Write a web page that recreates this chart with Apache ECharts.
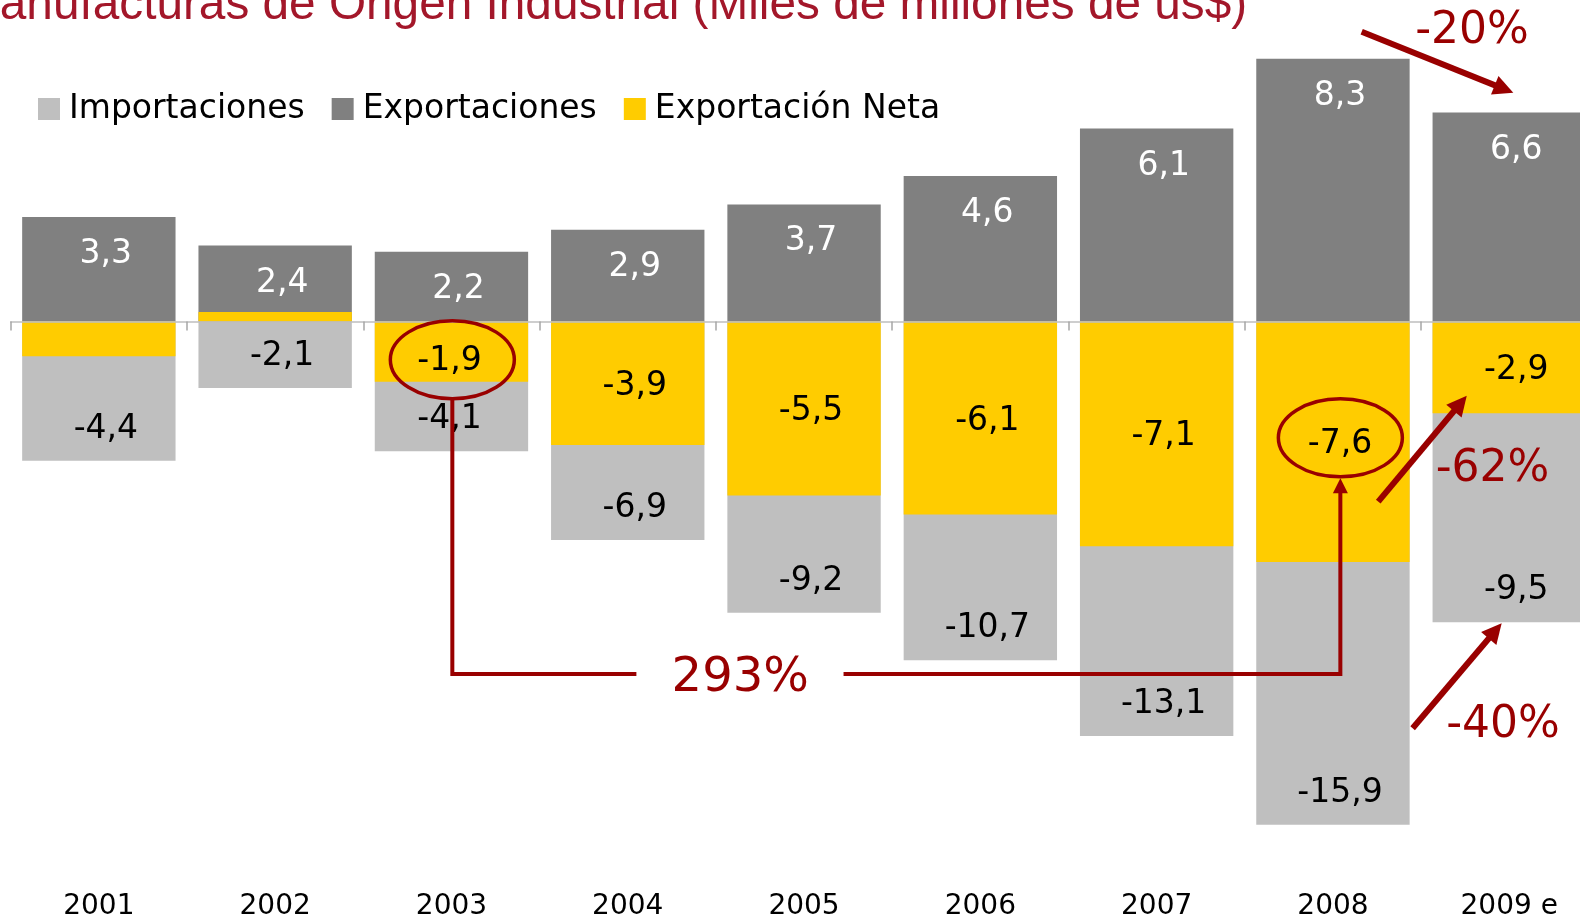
<!DOCTYPE html>
<html>
<head>
<meta charset="utf-8">
<title>Manufacturas de Origen Industrial</title>
<script src="https://cdn.jsdelivr.net/npm/echarts@6/dist/echarts.min.js"></script>
<style>
  html, body { margin: 0; padding: 0; background: #fff; }
  #main { width: 1580px; height: 920px; }
</style>
</head>
<body>
<div id="main"></div>
<script>
// datos (miles de millones de us$)
var years = ['2001', '2002', '2003', '2004', '2005', '2006', '2007', '2008', '2009 e'];
var exportaciones = [3.3, 2.4, 2.2, 2.9, 3.7, 4.6, 6.1, 8.3, 6.6];
var importaciones = [-4.4, -2.1, -4.1, -6.9, -9.2, -10.7, -13.1, -15.9, -9.5];
var exportacionNeta = [-1.1, 0.3, -1.9, -3.9, -5.5, -6.1, -7.1, -7.6, -2.9];

var rojo = '#990000';
var fuente = '"DejaVu Sans", Verdana, sans-serif';

var myChart = echarts.init(document.getElementById('main'));

function coma(v) {
    return v.toFixed(1).replace('.', ',');
}

// etiquetas de 2003 corridas a mano en el original
function conAjustes(values, ajustes) {
    return values.map(function (v, i) {
        var item = { value: v };
        if (ajustes[i]) item.label = { offset: ajustes[i] };
        return item;
    });
}

var etiqueta = {
    show: true,
    fontFamily: fuente,
    fontSize: 33,
    offset: [7, 0]
};

var option = {
    animation: false,
    title: {
        text: 'Manufacturas de Origen Industrial (Miles de millones de us$)',
        left: -40,
        top: -18,
        padding: 0,
        textStyle: {
            fontFamily: '"Liberation Sans", Arial, sans-serif',
            fontWeight: 'normal',
            fontSize: 47.75,
            color: '#a3172a'
        }
    },
    legend: {
        left: 38,
        top: 92.5,
        padding: 0,
        icon: 'rect',
        itemWidth: 22,
        itemHeight: 22,
        itemGap: 27,
        data: ['Importaciones', 'Exportaciones', 'Exportación Neta'],
        textStyle: {
            fontFamily: fuente,
            fontSize: 33,
            color: '#000',
            padding: [0, 0, 0, 4]
        }
    },
    grid: {
        left: 10.7,
        width: 1586.7,
        top: 36.65,
        height: 854.55,
        containLabel: false,
        outerBoundsMode: 'none'
    },
    xAxis: [{
        type: 'category',
        data: years,
        z: 5,
        axisLine: { onZero: true, lineStyle: { color: '#bfbfbf', width: 1.5 } },
        axisTick: { show: true, length: 9, lineStyle: { color: '#a6a6a6', width: 1.5 } },
        axisLabel: { show: false }
    }, {
        type: 'category',
        data: years,
        position: 'bottom',
        axisLine: { show: false, onZero: false },
        axisTick: { show: false },
        axisLabel: { margin: 2, fontFamily: fuente, fontSize: 28, color: '#000' }
    }],
    yAxis: {
        type: 'value',
        min: -18,
        max: 9,
        show: false,
        splitLine: { show: false }
    },
    series: [{
        name: 'Importaciones',
        type: 'bar',
        barGap: '-100%',
        barCategoryGap: '13%',
        itemStyle: { color: '#bfbfbf' },
        label: Object.assign({}, etiqueta, {
            position: 'insideBottom',
            distance: 15,
            color: '#000',
            formatter: function (p) { return coma(p.value); }
        }),
        data: conAjustes(importaciones, { 2: [-2, 0] })
    }, {
        name: 'Exportaciones',
        type: 'bar',
        barGap: '-100%',
        barCategoryGap: '13%',
        itemStyle: { color: '#808080' },
        label: Object.assign({}, etiqueta, {
            position: 'insideTop',
            distance: 21,
            color: '#fff',
            formatter: function (p) { return coma(p.value); }
        }),
        data: exportaciones
    }, {
        name: 'Exportación Neta',
        type: 'bar',
        barGap: '-100%',
        barCategoryGap: '13%',
        itemStyle: { color: '#ffcc00' },
        label: Object.assign({}, etiqueta, {
            position: 'inside',
            offset: [7, 3],
            color: '#000',
            formatter: function (p) { return p.value < -1.5 ? coma(p.value) : ''; }
        }),
        data: conAjustes(exportacionNeta, { 2: [-2, 10] })
    }]
};

myChart.setOption(option);

// --- anotaciones (posiciones en unidades de categoría / valor) ---
function punto(ci, v) {
    var a = myChart.convertToPixel({ xAxisIndex: 0, yAxisIndex: 0 }, [0, v]);
    var b = myChart.convertToPixel({ xAxisIndex: 0, yAxisIndex: 0 }, [1, v]);
    return [a[0] + ci * (b[0] - a[0]), a[1]];
}

function flecha(p0, p1, ancho, largo, medio) {
    var dx = p1[0] - p0[0], dy = p1[1] - p0[1];
    var L = Math.sqrt(dx * dx + dy * dy);
    var ux = dx / L, uy = dy / L;
    var bx = p1[0] - ux * largo, by = p1[1] - uy * largo;
    return [{
        type: 'line', z: 10,
        shape: { x1: p0[0], y1: p0[1], x2: bx + ux * 3, y2: by + uy * 3 },
        style: { stroke: rojo, lineWidth: ancho }
    }, {
        type: 'polygon', z: 10,
        shape: { points: [[p1[0], p1[1]], [bx - uy * medio, by + ux * medio], [bx + uy * medio, by - ux * medio]] },
        style: { fill: rojo }
    }];
}

function texto(p, t, size) {
    return {
        type: 'text', z: 10, x: p[0], y: p[1] + 3,
        style: { text: t, fontFamily: fuente, fontSize: size, fill: rojo, align: 'center', verticalAlign: 'middle' }
    };
}

var rx = 62, ry = 39;
var e1 = punto(2.005, -1.207);
var e2 = punto(7.042, -3.675);
var yLinea = punto(0, -11.14)[1];
var xCorte1 = punto(3.049, 0)[0];
var xCorte2 = punto(4.224, 0)[0];

var graficos = [{
    type: 'ellipse', z: 10,
    shape: { cx: e1[0], cy: e1[1], rx: rx, ry: ry },
    style: { fill: 'none', stroke: rojo, lineWidth: 3.5 }
}, {
    type: 'ellipse', z: 10,
    shape: { cx: e2[0], cy: e2[1], rx: rx, ry: ry },
    style: { fill: 'none', stroke: rojo, lineWidth: 3.5 }
}, {
    type: 'polyline', z: 10,
    shape: { points: [[e1[0], e1[1] + ry], [e1[0], yLinea], [xCorte1, yLinea]] },
    style: { fill: null, stroke: rojo, lineWidth: 4 }
}, {
    type: 'polyline', z: 10,
    shape: { points: [[xCorte2, yLinea], [e2[0], yLinea], [e2[0], e2[1] + ry + 14]] },
    style: { fill: null, stroke: rojo, lineWidth: 4 }
}, {
    type: 'polygon', z: 10,
    shape: { points: [[e2[0], e2[1] + ry + 1.5], [e2[0] - 7.5, e2[1] + ry + 16.5], [e2[0] + 7.5, e2[1] + ry + 16.5]] },
    style: { fill: rojo }
},
texto(punto(3.638, -11.2), '293%', 48),
texto(punto(7.789, 9.242), '-20%', 44),
texto(punto(7.905, -4.588), '-62%', 44),
texto(punto(7.965, -12.67), '-40%', 44)
];

graficos = graficos
    .concat(flecha(punto(7.163, 9.156), punto(8.023, 7.229), 6, 20, 10))
    .concat(flecha(punto(7.257, -5.693), punto(7.759, -2.344), 6, 20, 10))
    .concat(flecha(punto(7.452, -12.853), punto(7.957, -9.536), 6, 20, 10));

myChart.setOption({ graphic: graficos });
</script>
</body>
</html>
